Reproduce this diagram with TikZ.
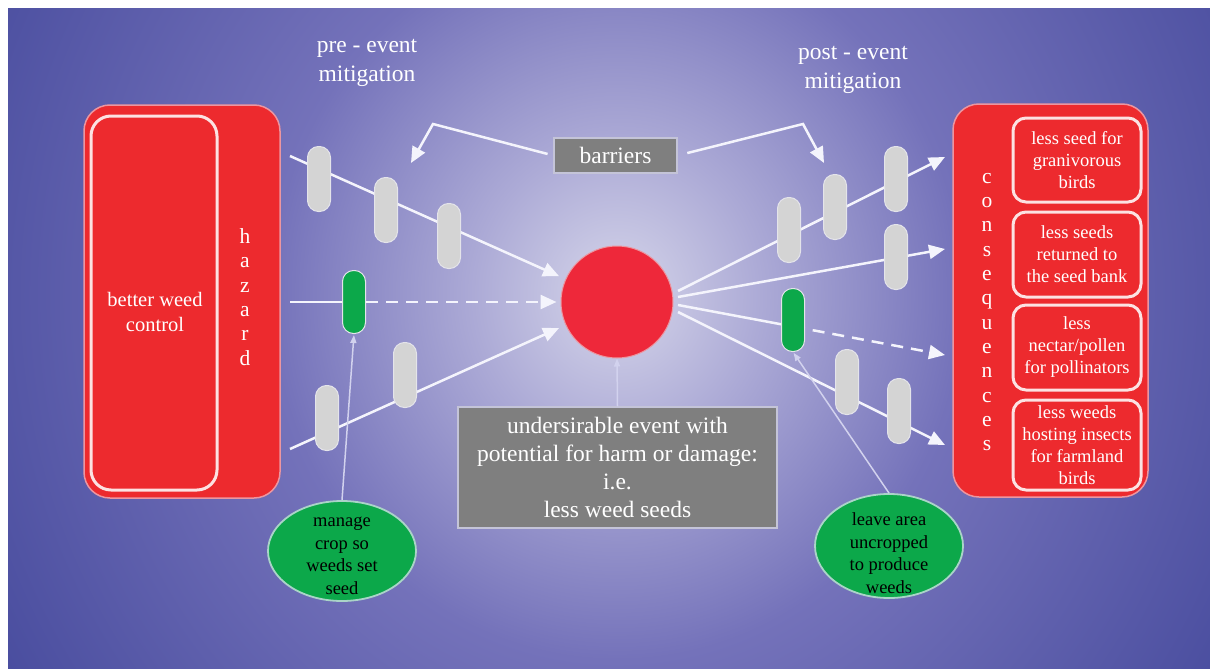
\documentclass[tikz,border=0pt]{standalone}
\usepackage{fontspec}
\setmainfont{Liberation Serif}
\usetikzlibrary{arrows.meta,shapes.geometric}
\definecolor{bgout}{RGB}{72,76,158}
\definecolor{bgm2}{RGB}{116,114,186}
\definecolor{bgmid}{RGB}{172,170,214}
\definecolor{bgin}{RGB}{214,214,234}
\definecolor{redc}{RGB}{237,42,46}
\definecolor{circred}{RGB}{238,40,58}
\definecolor{redborder}{RGB}{236,150,160}
\definecolor{innerc}{RGB}{252,226,226}
\definecolor{pillgray}{RGB}{212,212,212}
\definecolor{pillborder}{RGB}{228,228,234}
\definecolor{greenc}{RGB}{12,168,74}
\definecolor{ellborder}{RGB}{170,212,200}
\definecolor{boxgray}{RGB}{127,127,127}
\definecolor{boxborder}{RGB}{196,196,216}
\definecolor{linec}{RGB}{244,244,252}
\definecolor{thinc}{RGB}{210,210,238}
\pgfdeclareradialshading{glow}{\pgfpoint{0bp}{0bp}}{color(0bp)=(bgin); color(5bp)=(bgmid); color(12bp)=(bgm2); color(25bp)=(bgout); color(50bp)=(bgout)}
\tikzset{
  every node/.style={inner sep=0pt},
  redbox/.style={draw=redborder, line width=1.5pt, fill=redc, rounded corners=26pt},
  innerbox/.style={draw=innerc, line width=3pt, rounded corners=20pt},
  conbox/.style={draw=innerc, line width=3pt, fill=redc, rounded corners=13pt, minimum width=128pt, text=white, align=center, font=\fontsize{18.5}{22}\selectfont},
  vtext/.style={text=white, align=center, font=\fontsize{21.5}{24.3}\selectfont},
  whitetext/.style={text=white, align=center, font=\fontsize{20.5}{25}\selectfont},
  toptext/.style={text=white, align=center, font=\fontsize{23.5}{29}\selectfont},
  greypill/.style={fill=pillgray, draw=pillborder, line width=1pt, rounded corners=11pt, minimum width=23pt, minimum height=65pt},
  greenpill/.style={fill=greenc, draw=pillborder, line width=1pt, rounded corners=11pt, minimum width=23pt, minimum height=63pt},
  evcircle/.style={circle, fill=circred, draw=redborder, line width=1pt, minimum size=112pt},
  greybox/.style={fill=boxgray, draw=boxborder, line width=1.2pt, text=white, align=center, font=\fontsize{23.5}{28}\selectfont},
  greenell/.style={ellipse, fill=greenc, draw=ellborder, line width=1.8pt, minimum width=148pt, minimum height=100pt},
  elltext/.style={text=black, align=center, font=\fontsize{18.5}{22.5}\selectfont},
  mainline/.style={draw=linec, line width=2.5pt},
  arr/.style={mainline, -{Triangle[length=16pt,width=14pt]}},
  dashline/.style={dash pattern=on 12pt off 8pt},
  thinarr/.style={draw=thinc, line width=1.5pt, -{Triangle[length=8pt,width=6pt]}},
}
\begin{document}
\begin{tikzpicture}[x=1pt,y=-1pt]
\useasboundingbox (0,0) rectangle (1210,669);
\fill[white] (0,0) rectangle (1210,669);
\begin{scope}
\clip (8,9) rectangle (1210,669);
\shade[shading=glow] (-103,-465) rectangle (1337,1055);
\end{scope}

% left hazard box
\node[redbox, minimum width=196pt, minimum height=393pt] (hz) at (182,301.5) {};
\node[innerbox, minimum width=126pt, minimum height=374pt] (bwc) at (154,303) {};
\node[whitetext] (bwct) at (155,312) {better weed\\control};
\node[vtext] (hzt) at (245,297) {h\\a\\z\\a\\r\\d};

% right consequences box
\node[redbox, minimum width=195pt, minimum height=393pt] (cq) at (1050.5,300.5) {};
\node[vtext] (cqt) at (987,312) {c\\o\\n\\s\\e\\q\\u\\e\\n\\c\\e\\s};
\node[conbox, minimum height=84pt] (c1) at (1077,160) {less seed for\\granivorous\\birds};
\node[conbox, minimum height=85pt] (c2) at (1077,254.5) {less seeds\\returned to\\the seed bank};
\node[conbox, minimum height=85pt] (c3) at (1077,347.5) {less\\nectar/pollen\\for pollinators};
\node[conbox, minimum height=90pt] (c4) at (1077,445) {less weeds\\hosting insects\\for farmland\\birds};

% event circle
\node[evcircle] (ev) at (617,302) {};

% titles
\node[toptext] (pre) at (367,63) {pre - event\\mitigation};
\node[toptext] (post) at (853,70) {post - event\\mitigation};

% barriers box and callouts
\node[greybox, minimum width=123pt, minimum height=35pt] (bar) at (615.5,155.5) {barriers};
\coordinate (bl) at (433,124);
\coordinate (btl) at (411,163);
\coordinate (br) at (803,124);
\coordinate (btr) at (824,163);
\draw[arr, shorten <=6pt] (bar.west) -- (bl) -- (btl);
\draw[arr, shorten <=10pt] (bar.east) -- (br) -- (btr);

% left lines
\coordinate (s1) at (290,156);
\coordinate (s2) at (290,302);
\coordinate (s3) at (290,449);
\draw[arr, shorten >=7pt] (s1) -- (ev);
\draw[arr, shorten >=7pt] (s3) -- (ev);

% right lines
\coordinate (o1) at (678,291);
\coordinate (r1) at (945,157);
\coordinate (o2) at (678,297);
\coordinate (r2) at (945,249);
\coordinate (o3) at (678,305);
\coordinate (m3) at (793,326.5);
\coordinate (r3) at (945,355);
\coordinate (o4) at (678,312);
\coordinate (r4) at (945,445);
\draw[arr] (o1) -- (r1);
\draw[arr] (o2) -- (r2);
\draw[mainline] (o3) -- (m3);
\draw[arr, dashline] (m3) -- (r3);
\draw[arr] (o4) -- (r4);

% pills left
\node[greypill] (lp1) at (319,179) {};
\node[greypill] (lp2) at (386,210) {};
\node[greypill] (lp3) at (449,236) {};
\node[greypill] (lp4) at (327,418) {};
\node[greypill] (lp5) at (405,375) {};
\node[greenpill] (lg) at (354,302) {};
\draw[mainline] (s2) -- (lg);
\draw[arr, dashline, shorten >=4pt] (lg) -- (ev);

% pills right
\node[greypill] (rp1) at (789,230) {};
\node[greypill] (rp2) at (835,207) {};
\node[greypill] (rp3) at (896,179) {};
\node[greypill] (rp4) at (896,257) {};
\node[greypill] (rp5) at (847,382) {};
\node[greypill] (rp6) at (899,411) {};
\node[greenpill] (rg) at (793,320) {};

% central description box
\node[greybox, minimum width=319pt, minimum height=121pt] (und) at (617.5,467.5) {undersirable event with\\potential for harm or damage:\\i.e.\\less weed seeds};
\draw[thinarr] (und.north) -- (ev.south);

% green ellipses
\node[greenell] (m1) at (342,551) {};
\node[elltext] (m1t) at (342,556) {manage\\crop so\\weeds set\\seed};
\node[greenell, minimum height=104pt] (m2) at (889,546) {};
\node[elltext] (m2t) at (889,553) {leave area\\uncropped\\to produce\\weeds};
\draw[thinarr, shorten >=1pt] (m1.north) -- (lg.south);
\draw[thinarr, shorten >=1pt] (m2.north) -- (rg.south);
\end{tikzpicture}
\end{document}
